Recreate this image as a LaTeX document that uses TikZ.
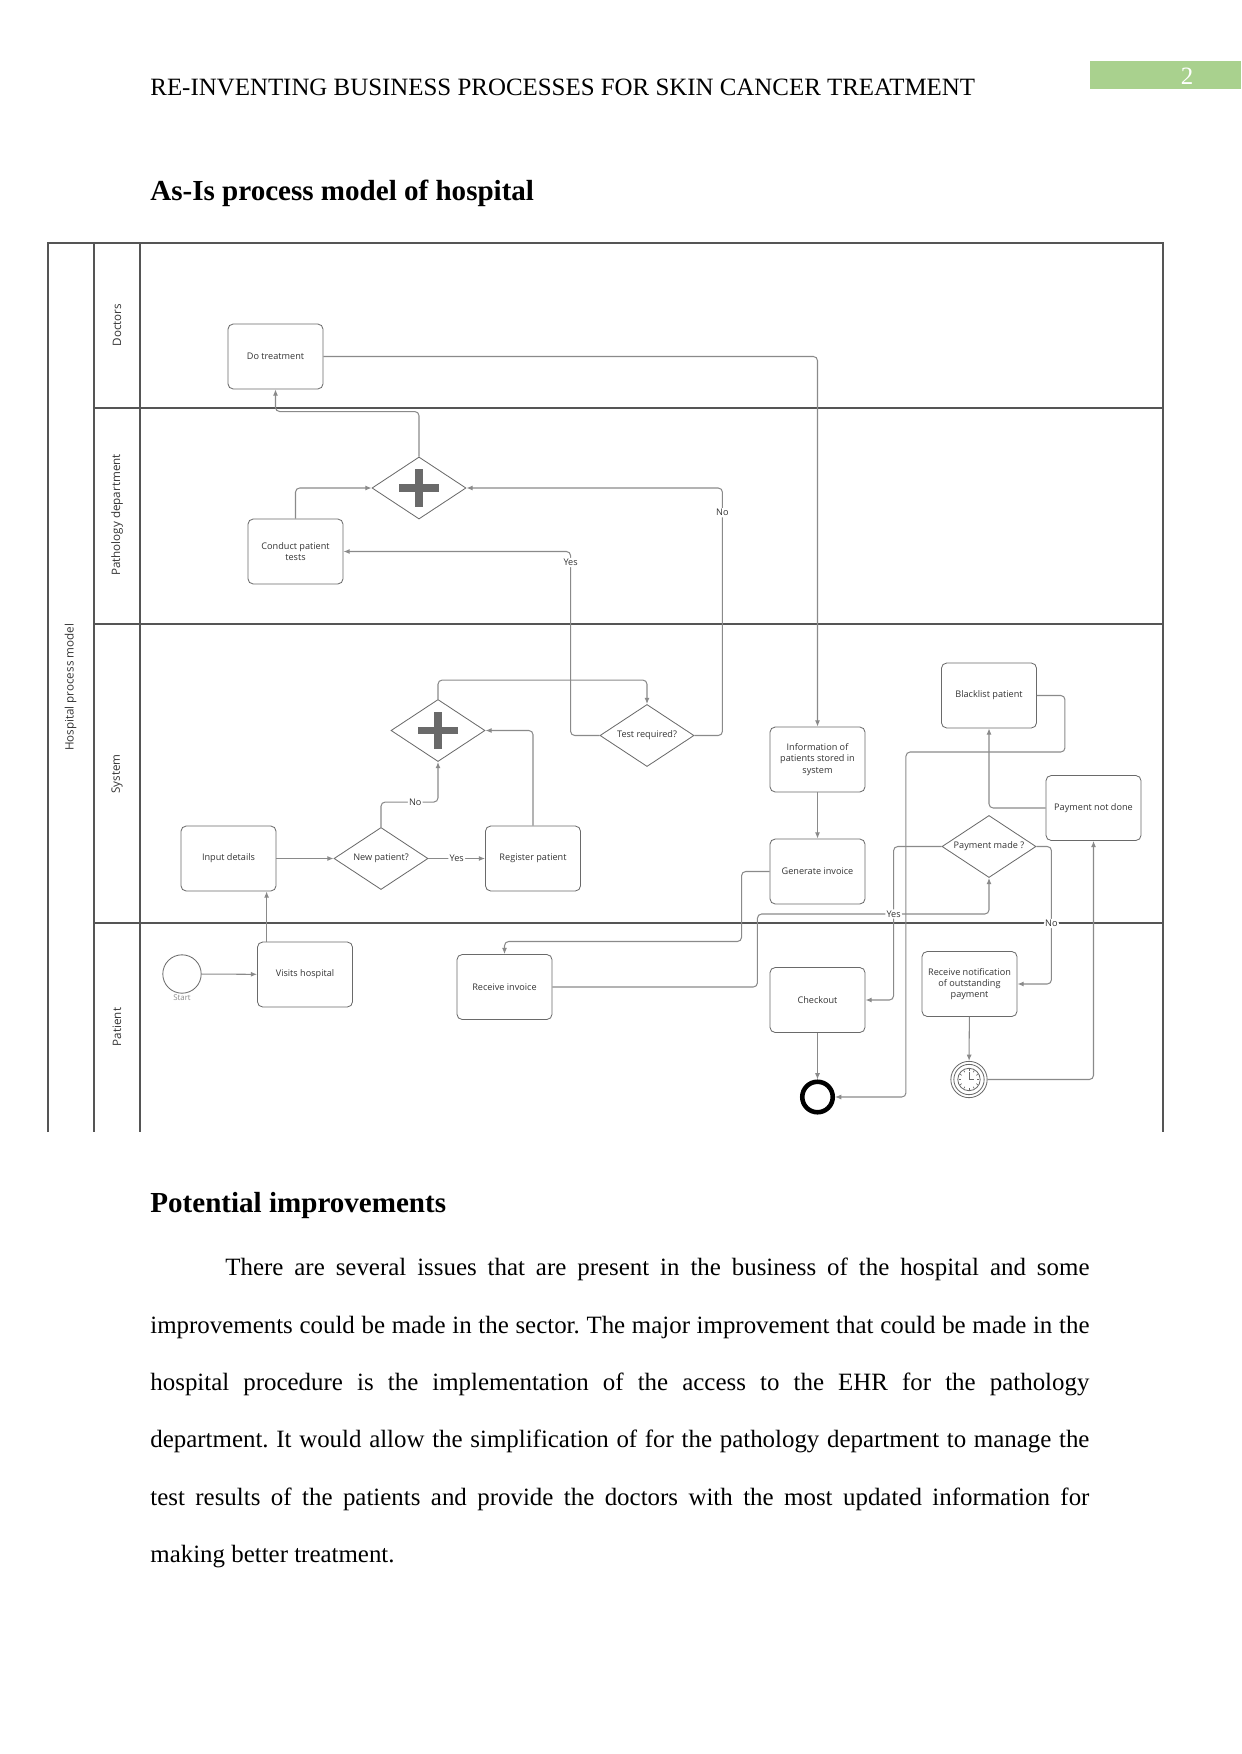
\documentclass[tikz,border=0pt]{standalone}
\usepackage{fontspec}
\setmainfont{Liberation Serif}
\newfontfamily\diagfont{Open Sans}
\usetikzlibrary{arrows.meta,shapes.geometric}
\frenchspacing

\definecolor{pagegreen}{HTML}{A9D18E}
\definecolor{lanegray}{HTML}{555555}
\definecolor{flowgray}{HTML}{8A8A8A}
\definecolor{boxgray}{HTML}{6A6A6A}
\definecolor{labelink}{HTML}{333333}

\begin{document}
\begin{tikzpicture}[x=0.4818pt, y=-0.4818pt, font=\fontsize{12}{14}\selectfont]
  \useasboundingbox (0,0) rectangle (1241,1754);

  % Running head and page number.
  \node[anchor=base west, inner sep=0pt] (runhead) at (150,96) {RE-INVENTING BUSINESS PROCESSES FOR SKIN CANCER TREATMENT};
  \node[fill=pagegreen, minimum width=72.8pt, minimum height=13.5pt, inner sep=0pt] (pagebox) at (1165.5,75) {};
  \node[text=white] (pagenum) at (1187,76) {2};
  \node[anchor=base west, inner sep=0pt, font=\fontsize{14}{16}\selectfont\bfseries] (title) at (150,201) {As-Is process model of hospital};

  \tikzset{
    task/.style={draw=boxgray, rounded corners=2.5pt, minimum width=45.8pt, minimum height=31.3pt, align=center, inner sep=1pt, text=labelink, font=\diagfont\fontsize{4.4}{5.4}\selectfont},
    gate/.style={diamond, aspect=1.5, draw=boxgray, minimum width=45.3pt, minimum height=29.9pt, inner sep=0pt, align=center, text=labelink, font=\diagfont\fontsize{4.4}{5.4}\selectfont},
    andgate/.style={gate, path picture={
        \draw[line width=3.4pt] ([xshift=-9.5pt]path picture bounding box.center) -- ([xshift=9.5pt]path picture bounding box.center);
        \draw[line width=3.4pt] ([yshift=-9pt]path picture bounding box.center) -- ([yshift=9pt]path picture bounding box.center);}},
    startev/.style={circle, draw=boxgray, minimum size=18.5pt, inner sep=0pt},
    endev/.style={circle, draw=black, line width=2.2pt, minimum size=14.7pt, inner sep=0pt},
    timerev/.style={circle, draw=boxgray, minimum size=17.5pt, inner sep=0pt, path picture={
        \draw[boxgray] (path picture bounding box.center) circle (7.3pt);
        \draw[boxgray] (path picture bounding box.center) circle (5.4pt);
        \foreach \a in {0,30,...,330}
          \draw[boxgray, line width=0.3pt] ([shift={(\a:4pt)}]path picture bounding box.center) -- ([shift={(\a:5pt)}]path picture bounding box.center);
        \draw[boxgray, line width=0.4pt] ([yshift=3.5pt]path picture bounding box.center) -- (path picture bounding box.center) -- ([xshift=2.6pt]path picture bounding box.center);}},
    flow/.style={draw=flowgray, line width=0.5pt, rounded corners=2pt, -{Latex[length=3pt,width=2.4pt]}},
    lbl/.style={font=\diagfont\fontsize{4.4}{5}\selectfont, text=labelink, fill=white, inner sep=0.6pt},
    lane/.style={draw=lanegray, line width=0.6pt},
    lanelbl/.style={rotate=90, font=\diagfont\fontsize{5.6}{6.5}\selectfont, text=labelink}
  }

  % Pool with four lanes (bottom left open).
  \draw[lane] (48,1132) -- (48,243) -- (1163,243) -- (1163,1132);
  \draw[lane] (94,243) -- (94,1132);
  \draw[lane] (140,243) -- (140,1132);
  \foreach \y in {408,624,923}
    \draw[lane] (94,\y) -- (1163,\y);
  \node[lanelbl] (poollbl) at (70.5,687.5) {Hospital process model};
  \node[lanelbl] (doclbl) at (117,325) {Doctors};
  \node[lanelbl] (pathlbl) at (117,515) {Pathology department};
  \node[lanelbl] (syslbl) at (117,774) {System};
  \node[lanelbl] (patlbl) at (117,1027) {Patient};

  % Activities, gateways and events.
  \node[task] (dotreat) at (275.5,356.5) {Do treatment};
  \node[andgate] (pgate) at (419,488) {};
  \node[task] (tests) at (295.5,551.5) {Conduct patient\\tests};
  \node[andgate] (sgate) at (438,730.5) {};
  \node[gate] (testreq) at (647,735.5) {Test required?};
  \node[task] (input) at (228.5,858.5) {Input details};
  \node[gate] (newpat) at (381,858.5) {New patient?};
  \node[task] (register) at (533,858.5) {Register patient};
  \node[task] (info) at (817.5,759.5) {Information of\\patients stored in\\system};
  \node[task] (geninv) at (817.5,871.5) {Generate invoice};
  \node[task] (blacklist) at (989,695.5) {Blacklist patient};
  \node[task] (notdone) at (1093.5,808) {Payment not done};
  \node[gate] (paymade) at (989,846.5) {Payment made ?};
  \node[startev, label={[font=\diagfont\fontsize{3.8}{4}\selectfont, text=flowgray, inner sep=0.5pt]below:Start}] (start) at (182,974) {};
  \node[task] (visits) at (305,974.5) {Visits hospital};
  \node[task] (recinv) at (504.5,987) {Receive invoice};
  \node[task] (checkout) at (817.5,1000) {Checkout};
  \node[task] (notify) at (969.5,984) {Receive notification\\of outstanding\\payment};
  \node[timerev] (timer) at (969,1079.5) {};
  \node[endev] (endev) at (817.5,1097) {};

  % Sequence flows.
  \draw[flow] (start) -- (visits);
  \draw[flow] ([xshift=4.6pt]visits.north west) -- ([xshift=4.6pt]visits.north west |- input.south);
  \draw[flow] (input) -- (newpat);
  \draw[flow] (newpat) -- node[lbl]{Yes} (register);
  \draw[flow] (newpat.north) -- ++(0,-25) -| node[lbl, pos=0.3]{No} (sgate.south);
  \draw[flow] (register.north) |- (sgate.east);
  \draw[flow] (sgate.north) -- ++(0,-19) -| (testreq.north);
  \draw[flow] (testreq.west) -- ++(-29,0) |- node[lbl, pos=0.47]{Yes} (tests.east);
  \draw[flow] (testreq.east) -- ++(28,0) |- node[lbl, pos=0.45]{No} (pgate.east);
  \draw[flow] (tests.north) |- (pgate.west);
  \draw[flow] (pgate.north) -- ++(0,-45) -| (dotreat.south);
  \draw[flow] (dotreat.east) -| (info.north);
  \draw[flow] (info) -- (geninv);
  \draw[flow] (geninv.west) -- ++(-28,0) -- ++(0,70) -| (recinv.north);
  \draw[flow] (recinv.east) -- ++(205,0) -- ++(0,-73) -| (paymade.south);
  \draw[flow] (paymade.west) -- ++(-48,0) |- node[lbl, pos=0.22]{Yes} (checkout.east);
  \draw[flow] (paymade.east) -- ++(15,0) |- node[lbl, pos=0.28]{No} (notify.east);
  \draw[flow] (notdone.west) -| (blacklist.south);
  \draw[flow] (blacklist.east) -- ++(28,0) -- ++(0,56.5) -- ++(-159,0) |- (endev.east);
  \draw[flow] (notify) -- (timer);
  \draw[flow] (timer.east) -| (notdone.south);
  \draw[flow] (checkout) -- (endev);

  % Text below the model.
  \node[anchor=base west, inner sep=0pt, font=\fontsize{14}{16}\selectfont\bfseries] (improv) at (150,1212) {Potential improvements};
  \node[anchor=base west, inner sep=0pt] (line1) at (225,1275) {\makebox[416.3pt][s]{There are several issues that are present in the business of the hospital and some}};
  \node[anchor=base west, inner sep=0pt] (line2) at (150,1333) {\makebox[452.4pt][s]{improvements could be made in the sector. The major improvement that could be made in the}};
  \node[anchor=base west, inner sep=0pt] (line3) at (150,1390) {\makebox[452.4pt][s]{hospital procedure is the implementation of the access to the EHR for the pathology}};
  \node[anchor=base west, inner sep=0pt] (line4) at (150,1447) {\makebox[452.4pt][s]{department. It would allow the simplification of for the pathology department to manage the}};
  \node[anchor=base west, inner sep=0pt] (line5) at (150,1505) {\makebox[452.4pt][s]{test results of the patients and provide the doctors with the most updated information for}};
  \node[anchor=base west, inner sep=0pt] (line6) at (150,1562) {making better treatment.};
\end{tikzpicture}
\end{document}
